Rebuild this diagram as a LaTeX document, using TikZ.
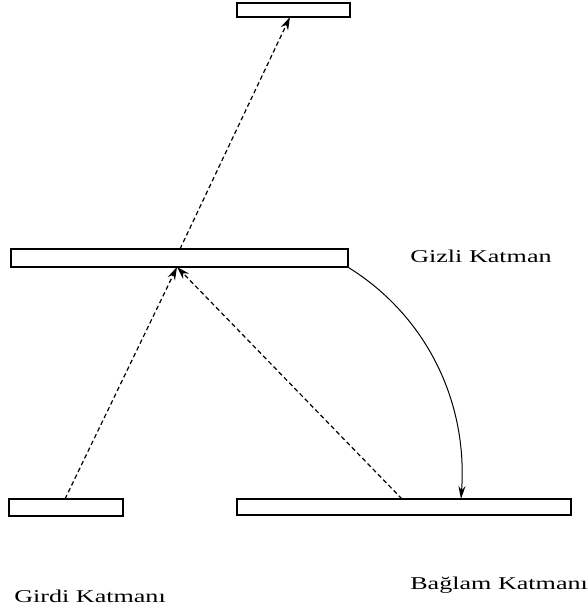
\documentclass[tikz,border=0pt]{standalone}
\usepackage{fontspec}
\setmainfont{Liberation Serif}
\usetikzlibrary{arrows.meta}
\begin{document}
\begin{tikzpicture}[x=1pt,y=-1pt,
  layer/.style={draw,line width=1.1pt,inner sep=0pt,rectangle},
  lbl/.style={anchor=base west,inner sep=0pt,font=\fontsize{18}{20}\selectfont,xscale=1.45},
  dashconn/.style={dashed,dash pattern=on 4.5pt off 3pt,line width=1.2pt,-{Stealth[length=13pt,width=8pt]}},
  solidconn/.style={line width=1pt,-{Stealth[length=13pt,width=7pt]}}]
\useasboundingbox (0,0) rectangle (588,610);
\node[layer,minimum width=113pt,minimum height=14pt] (out) at (293.5,10) {};
\node[layer,minimum width=337pt,minimum height=18pt] (hid) at (179.5,258) {};
\node[layer,minimum width=114pt,minimum height=17pt] (inp) at (66,507.5) {};
\node[layer,minimum width=334pt,minimum height=16pt] (ctx) at (404,507) {};
\node[lbl] (lh) at (410,262) {Gizli Katman};
\node[lbl] (li) at (14,602) {Girdi Katmanı};
\node[lbl] (lc) at (410,589) {Bağlam Katmanı};
\coordinate (hidtop) at (180,249);
\coordinate (outbot) at (290,17);
\coordinate (hidbot) at (177,267);
\coordinate (inptop) at (65,499);
\coordinate (ctxtop) at (402,499);
\coordinate (ctxin) at (461,499);
\draw[dashconn] (hidtop) -- (outbot);
\draw[dashconn] (inptop) -- (hidbot);
\draw[dashconn] (ctxtop) -- (hidbot);
\draw[solidconn] (hid.south east) .. controls (425,315) and (468,400) .. (ctxin);
\end{tikzpicture}
\end{document}
